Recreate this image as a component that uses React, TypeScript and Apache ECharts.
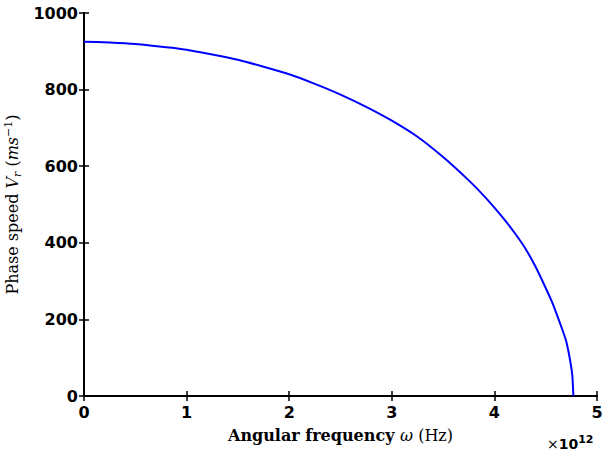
import React, { useEffect, useRef } from "react";
import * as echarts from "echarts";

const omega = [0, 0.25, 0.5, 1.0, 1.5, 2.0, 2.25, 2.5, 2.75, 3.0, 3.25, 3.5, 3.75, 3.9, 4.0, 4.1, 4.2, 4.3, 4.4, 4.5, 4.57, 4.66, 4.7, 4.74, 4.76, 4.77];
const phaseSpeed = [925, 923, 919, 904, 878, 840, 815, 787, 755, 719, 677, 624, 563, 522, 492, 460, 425, 386, 338, 282, 240, 175, 143, 90, 52, 0];

const xTicks = [0, 5, 1];
const yTicks = [0, 1000, 200];

const axisFont = "DejaVu Sans";
const serif = "DejaVu Serif";

export default function App() {
  const ref = useRef<HTMLDivElement>(null);
  useEffect(() => {
    if (!ref.current) return;
    const chart = echarts.init(ref.current, null, { renderer: "svg" });
    const data = omega.map((w, i) => [w, phaseSpeed[i]]);
    const lineStyle = { color: "#000", width: 2 };
    const tickStyle = { show: true, inside: true, length: 5, lineStyle: { color: "#000", width: 1.5 } };
    const labelStyle = { fontFamily: axisFont, fontWeight: "bold" as const, fontSize: 16, color: "#000" };
    chart.setOption({
      animation: false,
      backgroundColor: "#fff",
      grid: { left: 84, right: 10, top: 13, bottom: 58, containLabel: false, outerBoundsMode: "none" },
      xAxis: [
        {
          type: "value",
          min: xTicks[0],
          max: xTicks[1],
          interval: xTicks[2],
          position: "bottom",
          axisLine: { show: true, lineStyle },
          axisTick: tickStyle,
          splitLine: { show: false },
          axisLabel: { ...labelStyle, margin: 8 },
          name: "{b|Angular frequency }{i|ω}{r| (Hz)}",
          nameLocation: "middle",
          nameGap: 31,
          nameTextStyle: {
            rich: {
              b: { fontFamily: serif, fontWeight: "bold", fontSize: 16, color: "#000" },
              i: { fontFamily: serif, fontStyle: "italic", fontSize: 16, color: "#000" },
              r: { fontFamily: serif, fontSize: 16, color: "#000" },
            },
          },
        },
        {
          type: "value",
          min: xTicks[0],
          max: xTicks[1],
          interval: xTicks[2],
          position: "top",
          axisLine: { show: true, lineStyle },
          axisTick: tickStyle,
          splitLine: { show: false },
          axisLabel: { show: false },
        },
      ],
      yAxis: [
        {
          type: "value",
          min: yTicks[0],
          max: yTicks[1],
          interval: yTicks[2],
          position: "left",
          axisLine: { show: true, lineStyle },
          axisTick: tickStyle,
          splitLine: { show: false },
          axisLabel: { ...labelStyle, margin: 6, formatter: (v: number) => String(v) },
          name: "{a|Phase speed }{i|V}{sub|r}{a| (}{i|ms}{sup|−1}{a|)}",
          nameLocation: "middle",
          nameGap: 60,
          nameTextStyle: {
            rich: {
              a: { fontFamily: serif, fontSize: 16, color: "#000", lineHeight: 20 },
              i: { fontFamily: serif, fontStyle: "italic", fontSize: 16, color: "#000", lineHeight: 20 },
              sub: { fontFamily: serif, fontStyle: "italic", fontSize: 11, color: "#000", lineHeight: 10, verticalAlign: "bottom" },
              sup: { fontFamily: serif, fontSize: 11, color: "#000", lineHeight: 10, verticalAlign: "top" },
            },
          },
        },
        {
          type: "value",
          min: yTicks[0],
          max: yTicks[1],
          interval: yTicks[2],
          position: "right",
          axisLine: { show: true, lineStyle },
          axisTick: tickStyle,
          splitLine: { show: false },
          axisLabel: { show: false },
        },
      ],
      graphic: [
        {
          type: "text",
          left: 547,
          top: 434,
          style: {
            text: "{x|×}{b|10}{s|12}",
            rich: {
              x: { fontFamily: "DejaVu Sans", fontSize: 14, fill: "#000", lineHeight: 20 },
              b: { fontFamily: axisFont, fontWeight: "bold", fontSize: 14, fill: "#000", lineHeight: 20 },
              s: { fontFamily: axisFont, fontWeight: "bold", fontSize: 11, fill: "#000", lineHeight: 11, verticalAlign: "top" },
            },
          },
        },
      ],
      series: [
        {
          type: "line",
          xAxisIndex: 0,
          yAxisIndex: 0,
          data,
          showSymbol: false,
          symbol: "none",
          smooth: 0.15,
          lineStyle: { color: "#0000ff", width: 2 },
        },
      ],
    });
    return () => chart.dispose();
  }, []);
  return <div ref={ref} style={{ position: "absolute", left: 0, top: 0, width: 607, height: 454 }} />;
}
